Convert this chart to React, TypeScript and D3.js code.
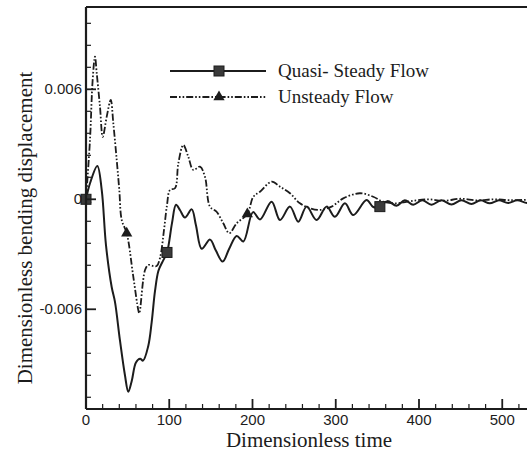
import React, { useEffect, useRef } from 'react';
import * as d3 from 'd3';

// Quasi-steady flow (solid line)
const quasiTime = [0, 5, 13.6, 18.9, 24, 30.9, 34.8, 40.8, 46.8, 50.8, 55, 60, 65, 68.5, 74.8, 78.9, 82.9, 87, 92, 97.3, 103.3, 108.1, 113, 118.9, 127, 132, 139, 149, 156, 164.2, 172, 181, 189, 200.6, 209, 223, 233, 245, 255, 265, 277, 289, 299, 311, 321, 337, 345, 353, 362, 373, 383, 393, 404, 415, 427, 439, 451, 463, 474, 485, 496, 507, 518, 530, 540];
const quasiValue = [0, 0.0009, 0.00182, 0.0005, -0.0025, -0.0048, -0.0056, -0.0077, -0.0096, -0.0105, -0.0099, -0.0089, -0.0087, -0.0088, -0.008, -0.0067, -0.005, -0.0039, -0.0034, -0.0029, -0.0013, -0.0003, -0.0006, -0.001, -0.00055, -0.0014, -0.0027, -0.0022, -0.0028, -0.0034, -0.0027, -0.002, -0.0023, -0.0007, -0.0011, -0.00013, -0.00113, -0.0004, -0.00122, -0.0004, -0.00113, -0.0004, -0.00095, -0.00022, -0.00086, -0.00004, -0.00042, -0.0004, -0.0001, -0.00035, -0.00005, -0.0003, -0.00005, -0.0003, -0.00005, -0.00028, -0.00005, -0.00025, -0.00005, -0.00022, -0.00005, -0.0002, -0.00005, -0.0002, -0.0001];

// Unsteady flow (dash-dot-dot line)
const unsteadyTime = [0, 4.8, 8, 10.8, 12.9, 16.8, 20.1, 24.9, 29.7, 32.8, 36.9, 40, 42.9, 48.9, 56.8, 62.8, 64, 70.9, 74.8, 80.8, 84.9, 88.9, 93.7, 97.3, 100.9, 106.9, 110.9, 116.9, 122.9, 128.9, 136.9, 142.9, 148.9, 156.9, 164.9, 172.1, 181, 193.8, 201, 209, 223, 233, 245, 257, 269, 281, 295, 309, 329, 345, 357, 373, 390, 410, 430, 450, 470, 490, 510, 540];
const unsteadyValue = [0, 0.00324, 0.00651, 0.00778, 0.00687, 0.00505, 0.00341, 0.00451, 0.00542, 0.00415, 0.00214, 0.00051, -0.00113, -0.00185, -0.00422, -0.00604, -0.00622, -0.00386, -0.00358, -0.00364, -0.00364, -0.0032, -0.00167, -0.00031, 0.00051, 0.0006, 0.00196, 0.00296, 0.00232, 0.0016, 0.00178, 0.00123, -0.0004, -0.00068, -0.00131, -0.00185, -0.00131, -0.0008, 0.00014, 0.00041, 0.00096, 0.00069, 0.00033, -0.00022, -0.00049, -0.00058, -0.0004, 0.00005, 0.00033, 0.00014, -0.00013, -0.00022, -0.0001, 0, -0.00008, 0.00003, -0.00006, 0, -0.00005, 0];

const quasiMarkers = [0, 97.3, 353];
const unsteadyMarkers = [0, 48.9, 193.8];

const xMajor = [0, 100, 200, 300, 400, 500];
const yMajor = [-0.006, 0, 0.006];
const yLabels = ['-0.006', '0', '0.006'];
const legendNames = ['Quasi- Steady Flow', 'Unsteady Flow'];

const W = 527;
const H = 457;
const DASH = '7,2,1.6,2,1.6,2';

const App: React.FC = () => {
  const svgRef = useRef<SVGSVGElement>(null);

  useEffect(() => {
    if (!svgRef.current) return;
    const svg = d3.select(svgRef.current);
    svg.selectAll('*').remove();

    const left = 86, top = 7, bottom = 409;
    const x = d3.scaleLinear().domain([0, 540]).range([left, left + 540 * 0.8325]);
    const y = d3.scaleLinear().domain([-0.01144, 0.01049]).range([bottom, top]);
    const ink = '#1c1c1c';

    const g = svg.append('g');
    const clip = svg.append('defs').append('clipPath').attr('id', 'plot');
    clip.append('rect').attr('x', left).attr('y', top).attr('width', W - left).attr('height', bottom - top);

    // lines
    const line = d3.line<[number, number]>().x(d => x(d[0])).y(d => y(d[1])).curve(d3.curveCatmullRom.alpha(0.5));
    const quasi = quasiTime.map((t, i) => [t, quasiValue[i]] as [number, number]);
    const unsteady = unsteadyTime.map((t, i) => [t, unsteadyValue[i]] as [number, number]);

    const lines = g.append('g').attr('clip-path', 'url(#plot)');
    lines.append('path').attr('d', line(unsteady)!).attr('fill', 'none').attr('stroke', ink)
      .attr('stroke-width', 1.8).attr('stroke-dasharray', DASH);
    lines.append('path').attr('d', line(quasi)!).attr('fill', 'none').attr('stroke', ink).attr('stroke-width', 2);

    const interp = (ts: number[], vs: number[], t: number) => {
      const i = d3.bisectLeft(ts, t);
      if (i <= 0) return vs[0];
      const t0 = ts[i - 1], t1 = ts[i];
      return vs[i - 1] + (vs[i] - vs[i - 1]) * (t - t0) / (t1 - t0);
    };
    const tri = d3.symbol().type(d3.symbolTriangle).size(55);
    const sq = (cx: number, cy: number) => g.append('rect').attr('x', cx - 5).attr('y', cy - 5).attr('width', 10).attr('height', 10)
      .attr('fill', '#3a3a3a').attr('stroke', ink).attr('stroke-width', 1);

    unsteadyMarkers.forEach(t => {
      g.append('path').attr('d', tri()!).attr('transform', `translate(${x(t)},${y(interp(unsteadyTime, unsteadyValue, t))})`).attr('fill', ink);
    });
    quasiMarkers.forEach(t => sq(x(t), y(interp(quasiTime, quasiValue, t))));

    // frame
    g.append('line').attr('x1', left).attr('x2', W).attr('y1', top).attr('y2', top).attr('stroke', ink).attr('stroke-width', 2);
    g.append('line').attr('x1', left).attr('x2', W).attr('y1', bottom).attr('y2', bottom).attr('stroke', ink).attr('stroke-width', 2.2);
    g.append('line').attr('x1', left).attr('x2', left).attr('y1', top).attr('y2', bottom).attr('stroke', ink).attr('stroke-width', 2.2);

    // x ticks
    d3.range(0, 541, 20).forEach(t => {
      const major = t % 100 === 0;
      g.append('line').attr('x1', x(t)).attr('x2', x(t)).attr('y1', bottom).attr('y2', bottom - (major ? 10 : 5))
        .attr('stroke', ink).attr('stroke-width', major ? 1.8 : 1.2);
    });
    xMajor.forEach(t => {
      g.append('text').attr('x', x(t)).attr('y', 425).attr('text-anchor', 'middle')
        .attr('font-family', 'Liberation Sans, Arial, sans-serif').attr('font-size', 15).attr('fill', ink).text(String(t));
    });

    // y ticks
    d3.range(-0.0108, 0.0104, 0.0012).forEach(v => {
      const major = Math.abs(Math.round(v / 0.006) * 0.006 - v) < 1e-6;
      g.append('line').attr('x1', left).attr('x2', left + (major ? 10 : 5)).attr('y1', y(v)).attr('y2', y(v))
        .attr('stroke', ink).attr('stroke-width', major ? 1.8 : 1.2);
    });
    yMajor.forEach((v, i) => {
      g.append('text').attr('x', 82).attr('y', y(v) + 5).attr('text-anchor', 'end')
        .attr('font-family', 'Liberation Sans, Arial, sans-serif').attr('font-size', 15).attr('fill', ink).text(yLabels[i]);
    });

    // axis titles
    g.append('text').attr('x', 309).attr('y', 447).attr('text-anchor', 'middle')
      .attr('font-family', 'Liberation Serif, Times New Roman, serif').attr('font-size', 21).attr('fill', ink).text('Dimensionless time');
    g.append('text').attr('transform', 'translate(32,228) rotate(-90)').attr('text-anchor', 'middle')
      .attr('font-family', 'Liberation Serif, Times New Roman, serif').attr('font-size', 21).attr('fill', ink).text('Dimensionless bending displacement');

    // legend
    const lg = g.append('g');
    const rows = [71, 97];
    rows.forEach((ry, i) => {
      const l = lg.append('line').attr('x1', 170).attr('x2', 266).attr('y1', ry).attr('y2', ry).attr('stroke', ink);
      if (i === 0) {
        l.attr('stroke-width', 2);
        sq(219, ry);
      } else {
        l.attr('stroke-width', 1.8).attr('stroke-dasharray', DASH);
        lg.append('path').attr('d', tri()!).attr('transform', `translate(219,${ry})`).attr('fill', ink);
      }
      lg.append('text').attr('x', 278).attr('y', ry + 6).attr('font-family', 'Liberation Serif, Times New Roman, serif')
        .attr('font-size', 19).attr('fill', ink).text(legendNames[i]);
    });
  }, []);

  return (
    <div style={{ position: 'fixed', left: 0, top: 0, width: W, height: H, background: '#fff' }}>
      <svg ref={svgRef} width={W} height={H} />
    </div>
  );
};

export default App;
